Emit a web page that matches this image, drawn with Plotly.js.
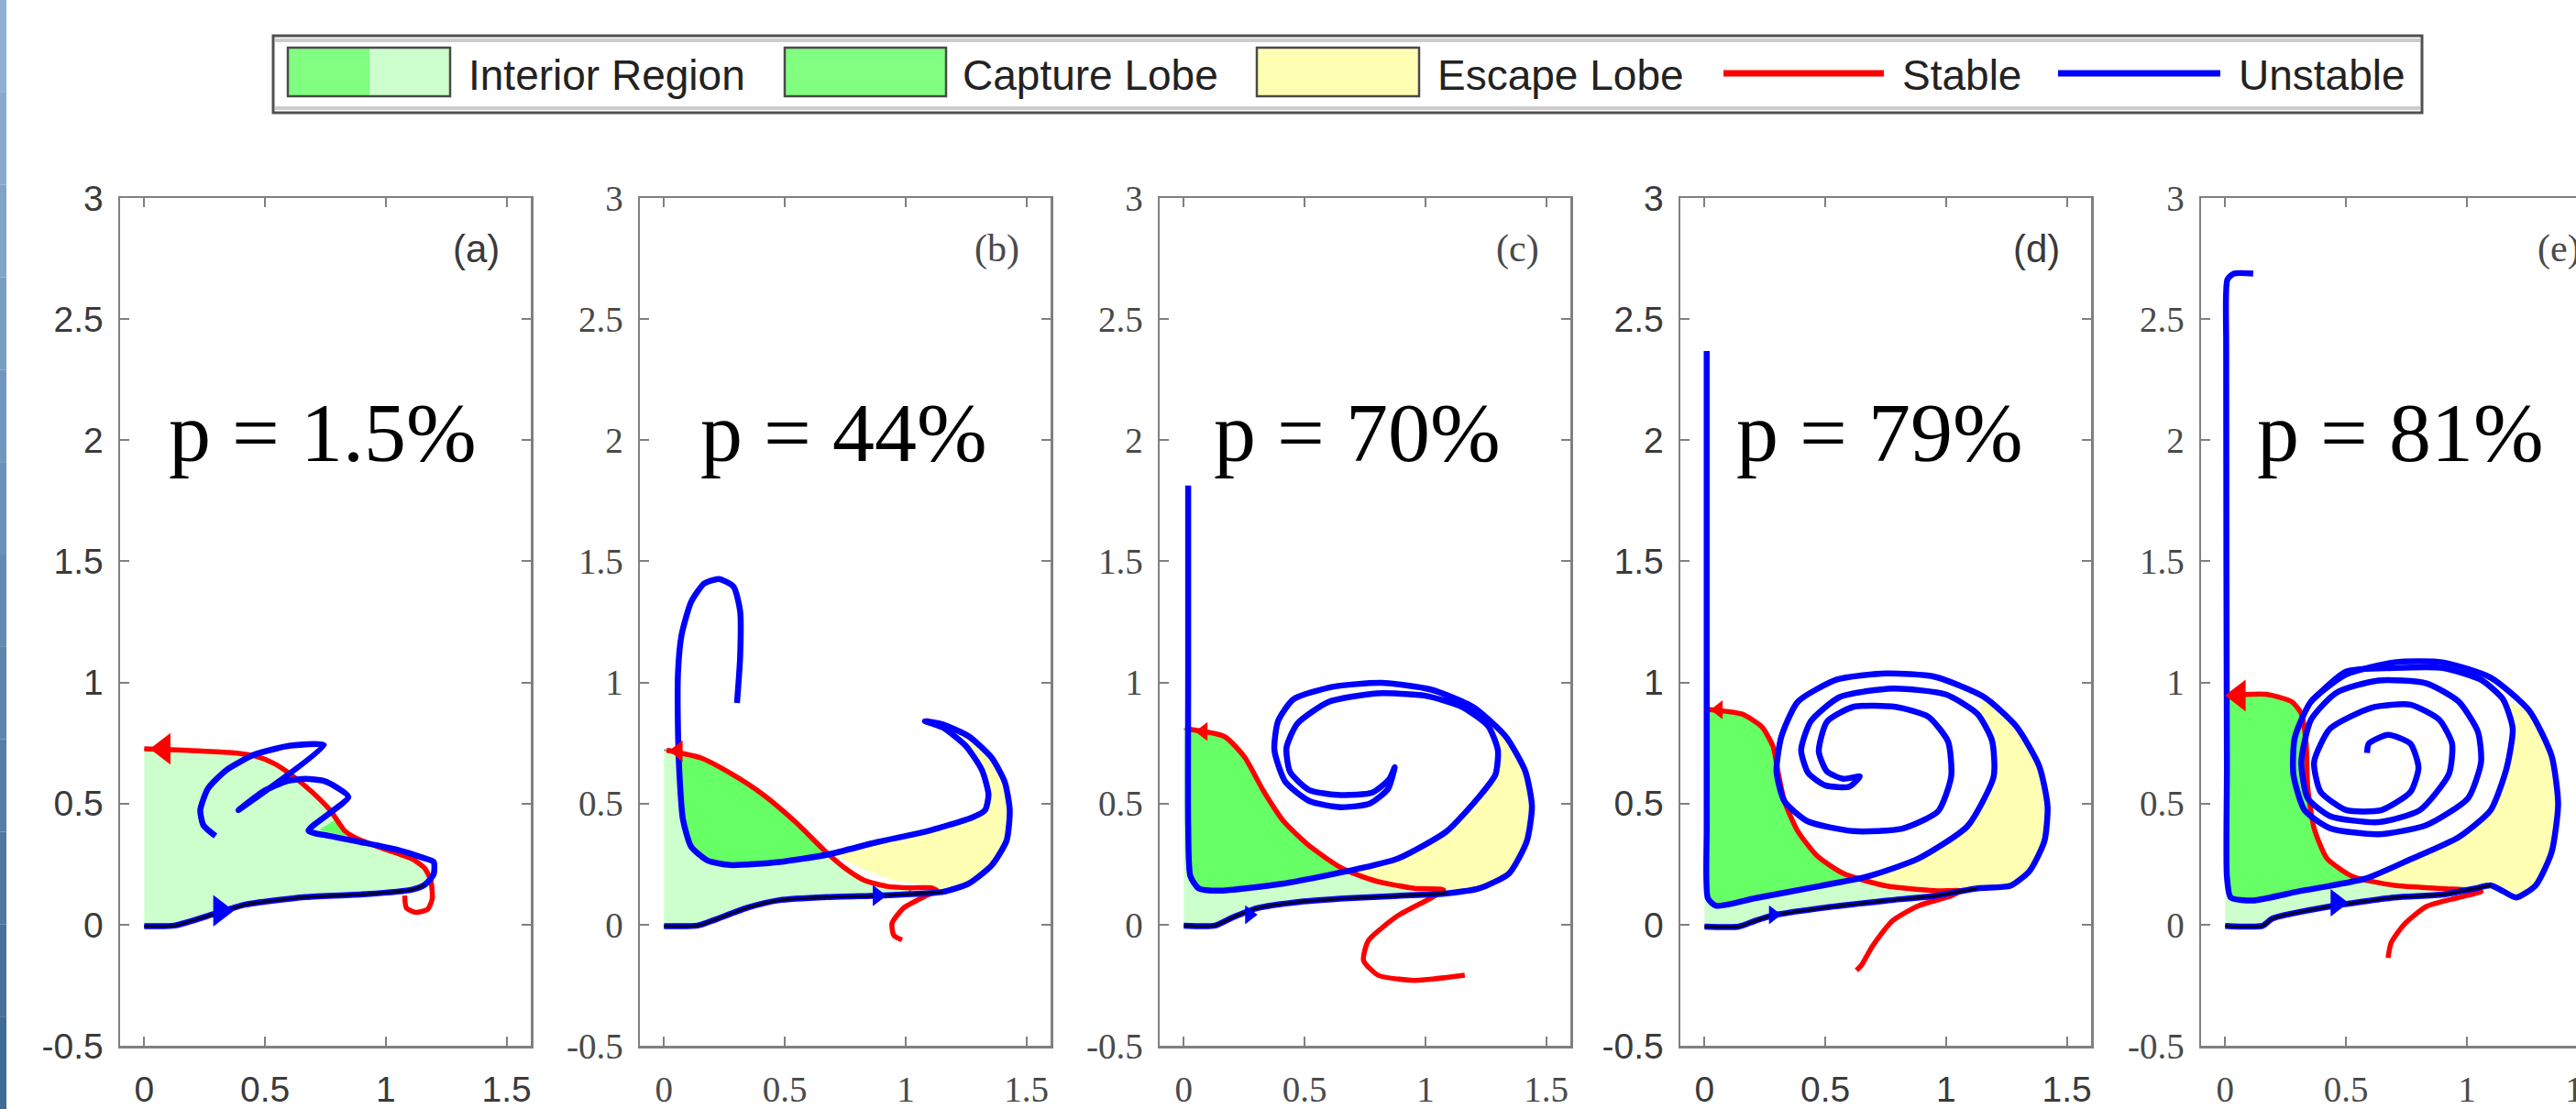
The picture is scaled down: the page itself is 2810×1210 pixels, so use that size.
<!DOCTYPE html>
<html><head><meta charset="utf-8">
<script src="https://cdn.plot.ly/plotly-3.0.1.min.js"></script>
<style>html,body{margin:0;padding:0;overflow:hidden;background:#fff;width:2810px;height:1210px}</style>
</head><body><div id="chart" style="width:2850px;height:1210px"></div>
<script>
// ---------------- DATA ----------------
const pLabels = ['p = 1.5%', 'p = 44%', 'p = 70%', 'p = 79%', 'p = 81%'];
const panelTags = ['(a)', '(b)', '(c)', '(d)', '(e)'];
const xTickVals = [0, 0.5, 1, 1.5];
const xTickText = ['0', '0.5', '1', '1.5'];
const yTickVals = [-0.5, 0, 0.5, 1, 1.5, 2, 2.5, 3];
const yTickText = ['-0.5', '0', '0.5', '1', '1.5', '2', '2.5', '3'];
const legendNames = ['Interior Region', 'Capture Lobe', 'Escape Lobe', 'Stable', 'Unstable'];

// panel (a) p = 1.5%
const aStableX = [0, 0.163, 0.352, 0.466, 0.542, 0.617, 0.693, 0.769, 0.832, 0.883, 0.984, 1.110, 1.160, 1.186, 1.192, 1.173, 1.122, 1.085, 1.078];
const aStableY = [0.726, 0.720, 0.711, 0.694, 0.663, 0.612, 0.549, 0.473, 0.385, 0.354, 0.316, 0.271, 0.234, 0.183, 0.107, 0.063, 0.051, 0.069, 0.120];
const aUnstBotX = [0, 0.125, 0.289, 0.415, 0.668, 0.92, 1.11, 1.16];
const aUnstBotY = [-0.006, -0.004, 0.044, 0.082, 0.114, 0.126, 0.145, 0.164];
const aUnstRestX = [1.198, 1.198, 1.148, 1.047, 0.895, 0.769, 0.68, 0.845, 0.794, 0.744, 0.668, 0.592, 0.491, 0.39, 0.744, 0.605, 0.542, 0.453, 0.34, 0.264, 0.232, 0.245, 0.295];
const aUnstRestY = [0.208, 0.259, 0.278, 0.309, 0.341, 0.366, 0.388, 0.527, 0.568, 0.593, 0.602, 0.593, 0.549, 0.473, 0.741, 0.739, 0.726, 0.701, 0.638, 0.562, 0.473, 0.41, 0.366];
const aInteriorX = [0, 0.163, 0.352, 0.466, 0.542, 0.617, 0.693, 0.769, 0.832, 0.883, 0.984, 1.110, 1.160, 1.186, 1.16, 1.11, 0.92, 0.668, 0.415, 0.289, 0.125, 0];
const aInteriorY = [0.726, 0.720, 0.711, 0.694, 0.663, 0.612, 0.549, 0.473, 0.385, 0.354, 0.316, 0.271, 0.234, 0.183, 0.164, 0.145, 0.126, 0.114, 0.082, 0.044, -0.004, -0.006];
const aCaptureX = [0.725, 0.794, 0.832];
const aCaptureY = [0.391, 0.436, 0.366];
const aEscapeX = [];
const aEscapeY = [];

// panel (b) p = 44%
const bStableX = [0.011, 0.153, 0.275, 0.41, 0.545, 0.667, 0.748, 0.829, 0.924, 1.019, 1.107, 1.13, 1.086, 0.992, 0.944, 0.951, 0.985];
const bStableY = [0.72, 0.688, 0.625, 0.537, 0.423, 0.303, 0.234, 0.183, 0.158, 0.152, 0.152, 0.14, 0.12, 0.069, 0.006, -0.044, -0.063];
const bUnstBotX = [0, 0.139, 0.207, 0.342, 0.478, 0.68, 0.883, 1.019, 1.154];
const bUnstBotY = [-0.006, -0.004, 0.019, 0.069, 0.101, 0.114, 0.12, 0.126, 0.135];
const bUnstRestX = [1.262, 1.357, 1.418, 1.431, 1.411, 1.357, 1.262, 1.154, 1.08, 1.154, 1.248, 1.316, 1.343, 1.329, 1.275, 1.086, 0.883, 0.68, 0.478, 0.275, 0.18, 0.112, 0.078, 0.065, 0.058, 0.058, 0.072, 0.112, 0.166, 0.227, 0.288, 0.315, 0.315, 0.302];
const bUnstRestY = [0.17, 0.246, 0.347, 0.473, 0.587, 0.688, 0.777, 0.827, 0.84, 0.814, 0.739, 0.638, 0.537, 0.473, 0.442, 0.385, 0.341, 0.29, 0.259, 0.246, 0.265, 0.322, 0.436, 0.6, 0.789, 1.042, 1.193, 1.332, 1.408, 1.427, 1.395, 1.294, 1.105, 0.915];
const bInteriorX = [0, 0.011, 0.153, 0.275, 0.41, 0.545, 0.667, 0.748, 0.829, 0.924, 1.019, 1.019, 0.883, 0.68, 0.478, 0.342, 0.207, 0.139, 0];
const bInteriorY = [0.72, 0.72, 0.688, 0.625, 0.537, 0.423, 0.303, 0.234, 0.183, 0.158, 0.152, 0.126, 0.12, 0.114, 0.101, 0.069, 0.019, -0.004, -0.006];
const bCaptureX = [0.06, 0.153, 0.275, 0.41, 0.545, 0.667, 0.478, 0.275, 0.18, 0.112, 0.078, 0.065, 0.06];
const bCaptureY = [0.72, 0.688, 0.625, 0.537, 0.423, 0.30, 0.259, 0.246, 0.265, 0.322, 0.436, 0.6, 0.72];
const bEscapeX = [0.667, 0.883, 1.086, 1.275, 1.329, 1.343, 1.316, 1.248, 1.154, 1.08, 1.154, 1.262, 1.357, 1.411, 1.431, 1.418, 1.357, 1.262, 1.154, 1.086, 0.951, 0.829, 0.72];
const bEscapeY = [0.30, 0.341, 0.385, 0.442, 0.473, 0.537, 0.638, 0.739, 0.814, 0.84, 0.827, 0.777, 0.688, 0.587, 0.473, 0.347, 0.246, 0.17, 0.14, 0.164, 0.183, 0.227, 0.28];

// panel (c) p = 70%
const cStableX = [0.02, 0.169, 0.25, 0.331, 0.413, 0.521, 0.656, 0.791, 0.954, 1.075, 1.021, 0.886, 0.764, 0.744, 0.805, 0.954, 1.163];
const cStableY = [0.807, 0.776, 0.694, 0.55, 0.427, 0.324, 0.232, 0.181, 0.15, 0.144, 0.109, 0.037, -0.066, -0.148, -0.209, -0.23, -0.209];
const cUnstBotX = [0, 0.129, 0.196, 0.304, 0.48, 0.683, 0.886, 1.089];
const cUnstBotY = [-0.004, -0.004, 0.027, 0.068, 0.094, 0.109, 0.119, 0.129];
const cUnstRestX = [1.224, 1.346, 1.42, 1.441, 1.414, 1.333, 1.197, 1.021, 0.818, 0.616, 0.453, 0.39, 0.375, 0.42, 0.52, 0.65, 0.77, 0.845, 0.873, 0.85, 0.78, 0.65, 0.52, 0.44, 0.425, 0.47, 0.6, 0.8, 1.0, 1.15, 1.26, 1.3, 1.29, 1.224, 1.089, 0.886, 0.683, 0.413, 0.142, 0.061, 0.027, 0.018, 0.018, 0.018];
const cUnstRestY = [0.15, 0.211, 0.345, 0.489, 0.632, 0.776, 0.899, 0.971, 0.998, 0.982, 0.93, 0.84, 0.72, 0.59, 0.51, 0.485, 0.5, 0.56, 0.65, 0.6, 0.545, 0.535, 0.555, 0.63, 0.73, 0.83, 0.92, 0.955, 0.945, 0.9, 0.82, 0.72, 0.62, 0.53, 0.386, 0.273, 0.222, 0.17, 0.14, 0.15, 0.201, 0.407, 1.023, 1.813];
const cInteriorX = [0, 0.02, 0.169, 0.25, 0.331, 0.413, 0.521, 0.656, 0.791, 0.954, 1.075, 1.089, 0.886, 0.683, 0.48, 0.304, 0.196, 0.129, 0];
const cInteriorY = [0.807, 0.807, 0.776, 0.694, 0.55, 0.427, 0.324, 0.232, 0.181, 0.15, 0.144, 0.129, 0.119, 0.109, 0.094, 0.068, 0.027, -0.004, -0.004];
const cCaptureX = [0.018, 0.169, 0.25, 0.331, 0.413, 0.521, 0.656, 0.69, 0.413, 0.142, 0.061, 0.027, 0.018];
const cCaptureY = [0.807, 0.776, 0.694, 0.55, 0.427, 0.324, 0.232, 0.222, 0.17, 0.14, 0.15, 0.201, 0.407];
const cEscapeX = [0.69, 0.886, 1.089, 1.224, 1.29, 1.3, 1.26, 1.333, 1.414, 1.441, 1.42, 1.346, 1.224, 1.089, 0.954, 0.791];
const cEscapeY = [0.222, 0.273, 0.386, 0.53, 0.62, 0.72, 0.82, 0.776, 0.632, 0.489, 0.345, 0.211, 0.15, 0.135, 0.15, 0.181];

// panel (d) p = 79%
const dStableX = [0.014, 0.156, 0.237, 0.284, 0.304, 0.331, 0.386, 0.467, 0.575, 0.751, 0.954, 1.062, 1.021, 0.886, 0.778, 0.697, 0.649, 0.629];
const dStableY = [0.889, 0.869, 0.817, 0.735, 0.632, 0.509, 0.386, 0.283, 0.211, 0.16, 0.14, 0.14, 0.119, 0.078, 0.016, -0.086, -0.168, -0.189];
const dUnstBotX = [0, 0.142, 0.21, 0.277, 0.48, 0.751, 0.954, 1.13];
const dUnstBotY = [-0.008, -0.008, 0.016, 0.037, 0.068, 0.099, 0.119, 0.15];
const dUnstRestX = [1.265, 1.346, 1.407, 1.42, 1.386, 1.292, 1.157, 0.954, 0.751, 0.548, 0.386, 0.318, 0.298, 0.331, 0.426, 0.616, 0.818, 0.967, 1.021, 1.008, 0.927, 0.791, 0.616, 0.507, 0.473, 0.507, 0.575, 0.643, 0.6, 0.5, 0.43, 0.40, 0.44, 0.56, 0.78, 1.0, 1.13, 1.19, 1.197, 1.089, 0.886, 0.683, 0.48, 0.21, 0.047, 0.014, 0.009, 0.009];
const dUnstRestY = [0.16, 0.222, 0.345, 0.489, 0.653, 0.817, 0.94, 1.023, 1.037, 1.012, 0.92, 0.776, 0.632, 0.509, 0.427, 0.386, 0.396, 0.468, 0.612, 0.756, 0.858, 0.899, 0.899, 0.838, 0.715, 0.632, 0.602, 0.612, 0.57, 0.575, 0.625, 0.72, 0.84, 0.94, 0.975, 0.95, 0.87, 0.76, 0.612, 0.407, 0.273, 0.201, 0.16, 0.109, 0.078, 0.109, 0.407, 2.368];
const dInteriorX = [0, 0.014, 0.156, 0.237, 0.284, 0.304, 0.331, 0.386, 0.467, 0.575, 0.751, 0.954, 1.062, 0.954, 0.751, 0.48, 0.277, 0.21, 0.142, 0];
const dInteriorY = [0.889, 0.889, 0.869, 0.817, 0.735, 0.632, 0.509, 0.386, 0.283, 0.211, 0.16, 0.14, 0.14, 0.119, 0.099, 0.068, 0.037, 0.016, -0.008, -0.008];
const dCaptureX = [0.009, 0.156, 0.237, 0.284, 0.304, 0.331, 0.386, 0.467, 0.575, 0.64, 0.48, 0.21, 0.047, 0.014, 0.009];
const dCaptureY = [0.889, 0.869, 0.817, 0.735, 0.632, 0.509, 0.386, 0.283, 0.211, 0.19, 0.16, 0.109, 0.078, 0.109, 0.407];
const dEscapeX = [0.64, 0.683, 0.886, 1.089, 1.197, 1.19, 1.13, 1.157, 1.292, 1.386, 1.42, 1.407, 1.346, 1.265, 1.13, 0.954, 0.751];
const dEscapeY = [0.19, 0.201, 0.273, 0.407, 0.612, 0.76, 0.87, 0.94, 0.817, 0.653, 0.489, 0.345, 0.222, 0.16, 0.15, 0.14, 0.16];

// panel (e) p = 81%
const eStableX = [0.004, 0.169, 0.275, 0.315, 0.335, 0.341, 0.368, 0.421, 0.527, 0.7, 0.899, 1.059, 0.966, 0.833, 0.74, 0.687, 0.674];
const eStableY = [0.946, 0.951, 0.921, 0.871, 0.747, 0.572, 0.398, 0.274, 0.199, 0.162, 0.149, 0.137, 0.112, 0.075, 0, -0.075, -0.137];
const eUnstBotX = [0, 0.155, 0.195, 0.434, 0.7, 0.899, 1.032, 1.099];
const eUnstBotY = [-0.005, -0.005, 0.025, 0.075, 0.112, 0.124, 0.149, 0.162];
const eUnstRestX = [1.152, 1.205, 1.285, 1.351, 1.378, 1.351, 1.258, 1.099, 0.899, 0.7, 0.501, 0.355, 0.288, 0.282, 0.328, 0.434, 0.634, 0.833, 1.006, 1.059, 1.046, 0.966, 0.833, 0.634, 0.461, 0.355, 0.315, 0.341, 0.434, 0.634, 0.806, 0.926, 0.939, 0.886, 0.767, 0.607, 0.434, 0.368, 0.395, 0.501, 0.647, 0.767, 0.8, 0.767, 0.674, 0.594, 0.587,
  null, 0.355, 0.5, 0.7, 0.9, 1.06, 1.15, 1.19, 1.165, 1.099, 0.966, 0.767, 0.58, 0.302, 0.116, 0.023, 0.007, 0.007, 0.004, 0.009, 0.036, 0.116];
const eUnstRestY = [0.137, 0.112, 0.162, 0.299, 0.498, 0.697, 0.884, 1.02, 1.083, 1.083, 1.033, 0.921, 0.772, 0.622, 0.473, 0.398, 0.373, 0.411, 0.523, 0.672, 0.796, 0.921, 0.996, 1.008, 0.958, 0.846, 0.672, 0.523, 0.448, 0.423, 0.473, 0.622, 0.747, 0.846, 0.908, 0.896, 0.809, 0.672, 0.548, 0.473, 0.473, 0.548, 0.647, 0.747, 0.784, 0.747, 0.709,
  null, 0.921, 1.045, 1.06, 1.06, 1.01, 0.93, 0.81, 0.647, 0.473, 0.361, 0.27, 0.19, 0.137, 0.1, 0.112, 0.199, 0.647, 2.39, 2.663, 2.688, 2.688];
const eInteriorX = [0, 0.004, 0.169, 0.275, 0.315, 0.335, 0.341, 0.368, 0.421, 0.527, 0.7, 0.899, 1.059, 0.899, 0.7, 0.434, 0.195, 0.155, 0];
const eInteriorY = [0.946, 0.946, 0.951, 0.921, 0.871, 0.747, 0.572, 0.398, 0.274, 0.199, 0.162, 0.149, 0.137, 0.124, 0.112, 0.075, 0.025, -0.005, -0.005];
const eCaptureX = [0.004, 0.169, 0.275, 0.315, 0.335, 0.341, 0.368, 0.421, 0.527, 0.58, 0.302, 0.116, 0.023, 0.007, 0.007];
const eCaptureY = [0.946, 0.951, 0.921, 0.871, 0.747, 0.572, 0.398, 0.274, 0.199, 0.19, 0.137, 0.1, 0.112, 0.199, 0.647];
const eEscapeX = [0.58, 0.767, 0.966, 1.099, 1.165, 1.19, 1.15, 1.258, 1.351, 1.378, 1.351, 1.285, 1.205, 1.152, 1.099, 0.899, 0.7];
const eEscapeY = [0.19, 0.27, 0.361, 0.473, 0.647, 0.81, 0.93, 0.884, 0.697, 0.498, 0.299, 0.162, 0.112, 0.137, 0.162, 0.149, 0.162];

// arrow heads on the manifolds
const stableArrowX = [0.08, 0.058, 0.081, 0.058, 0.056];
const stableArrowY = [0.726, 0.717, 0.797, 0.887, 0.946];
const unstableArrowX = [0.314, 0.883, 0.271, 0.284, 0.461];
const unstableArrowY = [0.057, 0.12, 0.041, 0.041, 0.09];

// ---------------- LAYOUT / STYLE ----------------
const W = 2850, H = 1210;
const panelLeft = [131, 698, 1265, 1833, 2401];
const plotW = 448, plotTop = 216, plotBot = 1141;
const serifPanel = [false, true, true, false, true];
const stableArrowSize = [30, 20, 18, 18, 30];
const unstableArrowSize = [30, 20, 18, 18, 26];
const pLabelDx = [0.093, 0.142, 0.116, 0.123, 0.123];

const panels = [
  {sx: aStableX, sy: aStableY, bx: aUnstBotX, by: aUnstBotY, rx: aUnstRestX, ry: aUnstRestY, ix: aInteriorX, iy: aInteriorY, cx: aCaptureX, cy: aCaptureY, ex: aEscapeX, ey: aEscapeY},
  {sx: bStableX, sy: bStableY, bx: bUnstBotX, by: bUnstBotY, rx: bUnstRestX, ry: bUnstRestY, ix: bInteriorX, iy: bInteriorY, cx: bCaptureX, cy: bCaptureY, ex: bEscapeX, ey: bEscapeY},
  {sx: cStableX, sy: cStableY, bx: cUnstBotX, by: cUnstBotY, rx: cUnstRestX, ry: cUnstRestY, ix: cInteriorX, iy: cInteriorY, cx: cCaptureX, cy: cCaptureY, ex: cEscapeX, ey: cEscapeY},
  {sx: dStableX, sy: dStableY, bx: dUnstBotX, by: dUnstBotY, rx: dUnstRestX, ry: dUnstRestY, ix: dInteriorX, iy: dInteriorY, cx: dCaptureX, cy: dCaptureY, ex: dEscapeX, ey: dEscapeY},
  {sx: eStableX, sy: eStableY, bx: eUnstBotX, by: eUnstBotY, rx: eUnstRestX, ry: eUnstRestY, ix: eInteriorX, iy: eInteriorY, cx: eCaptureX, cy: eCaptureY, ex: eEscapeX, ey: eEscapeY}
];

const traces = [];
const layout = {
  width: W, height: H, margin: {l: 0, r: 0, t: 0, b: 0},
  paper_bgcolor: '#ffffff', plot_bgcolor: '#ffffff',
  showlegend: false, shapes: [], annotations: []
};

const px = v => v / W;
const py = v => 1 - v / H;

panels.forEach((p, k) => {
  const sfx = k === 0 ? '' : String(k + 1);
  const xa = 'x' + sfx, ya = 'y' + sfx;
  const common = {xaxis: xa, yaxis: ya, hoverinfo: 'skip', showlegend: false};
  traces.push(Object.assign({x: p.ix, y: p.iy, mode: 'lines', fill: 'toself', fillcolor: '#ccffcc',
    line: {color: 'rgba(70,95,70,0.7)', width: 2}, name: legendNames[0]}, common));
  if (p.cx.length) traces.push(Object.assign({x: p.cx, y: p.cy, mode: 'lines', fill: 'toself', fillcolor: '#66ff66',
    line: {width: 0, color: '#66ff66'}, name: legendNames[1]}, common));
  if (p.ex.length) traces.push(Object.assign({x: p.ex, y: p.ey, mode: 'lines', fill: 'toself', fillcolor: '#ffffb3',
    line: {width: 0, color: '#ffffb3'}, name: legendNames[2]}, common));
  traces.push(Object.assign({x: p.sx, y: p.sy, mode: 'lines', line: {color: '#ff0000', width: 5.5, shape: 'spline', smoothing: 0.6}, name: legendNames[3]}, common));
  traces.push(Object.assign({x: p.bx.concat(p.rx), y: p.by.concat(p.ry), mode: 'lines', connectgaps: false,
    line: {color: '#0000ff', width: 6.5, shape: 'spline', smoothing: 0.6}, name: legendNames[4]}, common));
  traces.push(Object.assign({x: p.bx, y: p.by, mode: 'lines', line: {color: '#000020', width: 3, shape: 'spline', smoothing: 0.6}, name: 'boundary'}, common));
  traces.push(Object.assign({x: [stableArrowX[k]], y: [stableArrowY[k]], mode: 'markers',
    marker: {symbol: 'triangle-left', size: stableArrowSize[k], color: '#ff0000', line: {width: 0}}, name: 'stable arrow'}, common));
  traces.push(Object.assign({x: [unstableArrowX[k]], y: [unstableArrowY[k]], mode: 'markers',
    marker: {symbol: 'triangle-right', size: unstableArrowSize[k], color: '#0000ff', line: {width: 0}}, name: 'unstable arrow'}, common));

  const serif = serifPanel[k];
  const tickFont = serif ? {family: 'Liberation Serif, serif', size: 39, color: '#4a4a4a'}
                         : {family: 'Liberation Sans, Arial, sans-serif', size: 39, color: '#3a3a3a'};
  const axCommon = {showline: true, mirror: 'ticks', linecolor: '#808080', linewidth: 2.5,
    ticks: 'inside', ticklen: 10, tickwidth: 2, tickcolor: '#808080', showgrid: false, zeroline: false,
    tickfont: tickFont, fixedrange: true};
  layout['xaxis' + (k === 0 ? '' : k + 1)] = Object.assign({}, axCommon, {
    domain: [px(panelLeft[k]), px(panelLeft[k] + plotW)], range: [-0.1, 1.6], anchor: ya,
    tickmode: 'array', tickvals: xTickVals, ticktext: xTickText, ticklabelstandoff: 12});
  layout['yaxis' + (k === 0 ? '' : k + 1)] = Object.assign({}, axCommon, {
    domain: [py(plotBot), py(plotTop)], range: [-0.5, 3], anchor: xa,
    tickmode: 'array', tickvals: yTickVals, ticktext: yTickText, ticklabelstandoff: 8});

  layout.annotations.push({xref: xa, yref: ya, x: pLabelDx[k], y: 2.03, xanchor: 'left', yanchor: 'middle',
    text: pLabels[k], showarrow: false, font: {family: 'Liberation Serif, Times New Roman, serif', size: 92, color: '#000'}});
  layout.annotations.push({xref: xa, yref: ya, x: 1.48, y: 2.79, xanchor: 'right', yanchor: 'middle',
    text: panelTags[k], showarrow: false,
    font: serif ? {family: 'Liberation Serif, serif', size: 42, color: '#4a4a4a'} : {family: 'Liberation Sans, Arial, sans-serif', size: 42, color: '#3a3a3a'}});
});

// left decorative strip
const stripCols = ['#8db0d3', '#86aacd', '#7fa4c8', '#789ec2', '#7198bc', '#6a91b6', '#638bb0', '#5c85aa', '#557ea4', '#4e789e', '#477198', '#406b92'];
stripCols.forEach((c, i) => {
  layout.shapes.push({type: 'rect', xref: 'paper', yref: 'paper', x0: 0, x1: px(7),
    y0: py((i + 1) * H / stripCols.length), y1: py(i * H / stripCols.length), fillcolor: c, line: {width: 0}, layer: 'above'});
});

// legend box (drawn manually)
const L = layout.shapes;
L.push({type: 'rect', xref: 'paper', yref: 'paper', x0: px(298), x1: px(2642), y0: py(123), y1: py(39), fillcolor: '#ffffff', line: {color: '#505050', width: 3}});
L.push({type: 'rect', xref: 'paper', yref: 'paper', x0: px(300), x1: px(2640), y0: py(46), y1: py(42), fillcolor: '#cccccc', line: {width: 0}});
L.push({type: 'rect', xref: 'paper', yref: 'paper', x0: px(300), x1: px(2640), y0: py(120), y1: py(116), fillcolor: '#cccccc', line: {width: 0}});
L.push({type: 'rect', xref: 'paper', yref: 'paper', x0: px(314), x1: px(403), y0: py(105), y1: py(52), fillcolor: '#80ff80', line: {width: 0}});
L.push({type: 'rect', xref: 'paper', yref: 'paper', x0: px(403), x1: px(491), y0: py(105), y1: py(52), fillcolor: '#ccffcc', line: {width: 0}});
L.push({type: 'rect', xref: 'paper', yref: 'paper', x0: px(314), x1: px(491), y0: py(105), y1: py(52), line: {color: '#4a4a4a', width: 2.5}});
L.push({type: 'rect', xref: 'paper', yref: 'paper', x0: px(856), x1: px(1032), y0: py(105), y1: py(52), fillcolor: '#80ff80', line: {color: '#4a4a4a', width: 2.5}});
L.push({type: 'rect', xref: 'paper', yref: 'paper', x0: px(1371), x1: px(1548), y0: py(105), y1: py(52), fillcolor: '#ffffb3', line: {color: '#4a4a4a', width: 2.5}});
L.push({type: 'line', xref: 'paper', yref: 'paper', x0: px(1880), x1: px(2055), y0: py(80), y1: py(80), line: {color: '#ff0000', width: 7}});
L.push({type: 'line', xref: 'paper', yref: 'paper', x0: px(2245), x1: px(2422), y0: py(80), y1: py(80), line: {color: '#0000ff', width: 7}});
const legendTextX = [509, 1048, 1566, 2073, 2440];
legendNames.forEach((t, i) => {
  layout.annotations.push({xref: 'paper', yref: 'paper', x: px(legendTextX[i]), y: py(82), xanchor: 'left', yanchor: 'middle',
    text: t, showarrow: false, font: {family: 'Liberation Sans, Arial, sans-serif', size: 46, color: '#222'}});
});

Plotly.newPlot('chart', traces, layout, {staticPlot: true, displayModeBar: false});
</script></body></html>
